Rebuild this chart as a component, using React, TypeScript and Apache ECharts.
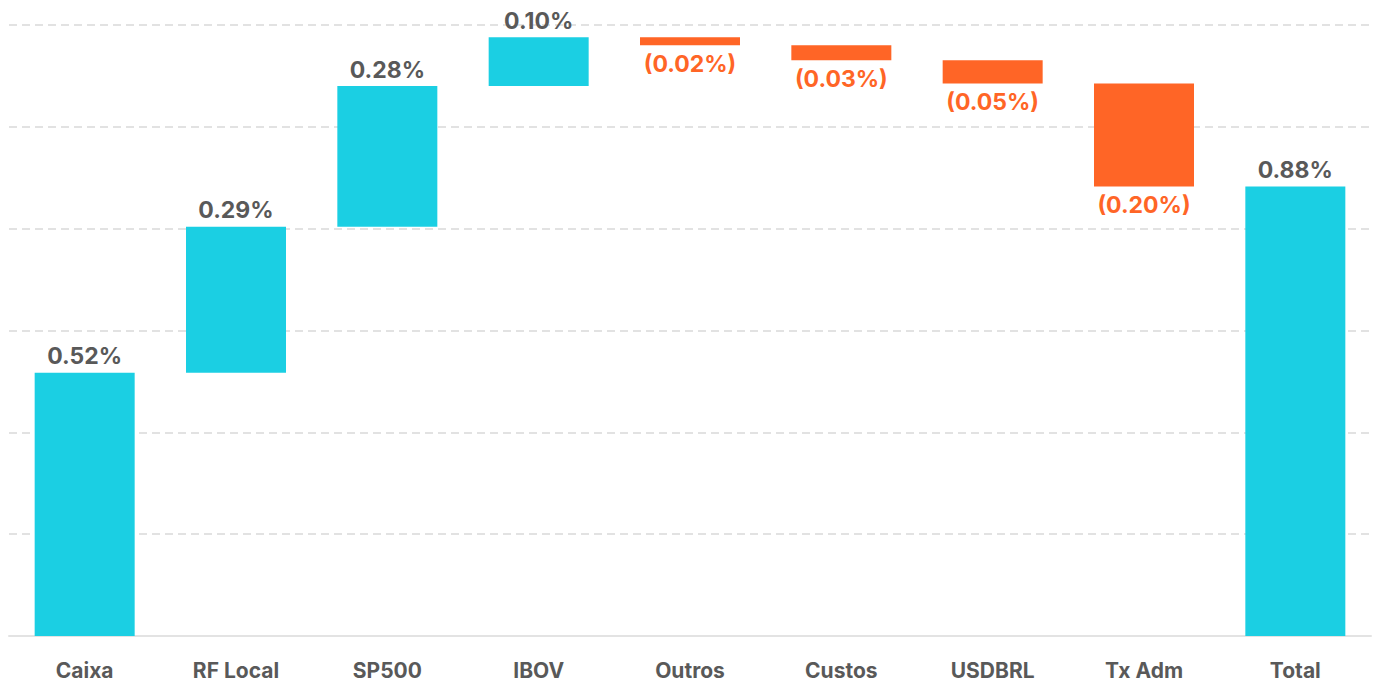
import React, { useEffect, useRef } from "react";
import * as echarts from "echarts";

const categories = ["Caixa", "RF Local", "SP500", "IBOV", "Outros", "Custos", "USDBRL", "Tx Adm", "Total"];
const contributions = [0.517, 0.287, 0.276, 0.096, -0.016, -0.029, -0.046, -0.202];
const yTicks = { min: 0, max: 1.2, interval: 0.2 };

const POS = "#1BCFE3";
const NEG = "#FF6526";
const TXT = "#595959";

export default function App() {
  const ref = useRef<HTMLDivElement>(null);
  useEffect(() => {
    if (!ref.current) return;
    const chart = echarts.init(ref.current, null, { renderer: "svg" });
    const base: number[] = [];
    const bars: any[] = [];
    let cum = 0;
    contributions.forEach((v) => {
      if (v >= 0) {
        base.push(cum);
        cum += v;
      } else {
        cum += v;
        base.push(cum);
      }
      bars.push({
        value: Math.abs(v),
        raw: v,
        itemStyle: { color: v >= 0 ? POS : NEG },
        label: {
          position: v >= 0 ? "top" : "bottom",
          color: v >= 0 ? TXT : NEG,
          distance: v >= 0 ? 5 : 7,
        },
      });
    });
    base.push(0);
    bars.push({
      value: cum,
      raw: cum,
      itemStyle: { color: POS },
      label: { position: "top", color: TXT },
    });
    const font = "Inter, Roboto, sans-serif";
    chart.setOption({
      animation: false,
      grid: { left: 9, right: 5, top: 25, bottom: 47, containLabel: false },
      xAxis: {
        type: "category",
        data: categories,
        axisTick: { show: false },
        axisLine: { lineStyle: { color: "#e3e3e3", width: 2 } },
        axisLabel: {
          color: TXT,
          fontWeight: "bold",
          fontSize: 21,
          fontFamily: font,
          margin: 24,
        },
      },
      yAxis: {
        type: "value",
        min: yTicks.min,
        max: yTicks.max,
        interval: yTicks.interval,
        axisLabel: { show: false },
        axisLine: { show: false },
        axisTick: { show: false },
        splitLine: { lineStyle: { color: "#d9d9d9", type: [8, 5], width: 1.5 } },
      },
      series: [
        {
          type: "bar",
          stack: "w",
          data: base,
          itemStyle: { color: "transparent" },
          silent: true,
          barWidth: 100,
        },
        {
          type: "bar",
          stack: "w",
          data: bars,
          barWidth: 100,
          label: {
            show: true,
            fontSize: 23,
            fontWeight: "bold",
            fontFamily: font,
            distance: 5,
            formatter: (p: any) => {
              const v = p.data.raw as number;
              const s = Math.abs(v).toFixed(2) + "%";
              return v < 0 ? "(" + s + ")" : s;
            },
          },
        },
      ],
    });
    return () => chart.dispose();
  }, []);
  return (
    <div
      ref={ref}
      style={{ position: "fixed", left: 0, top: 0, width: 1376, height: 683, background: "#fff" }}
    />
  );
}
